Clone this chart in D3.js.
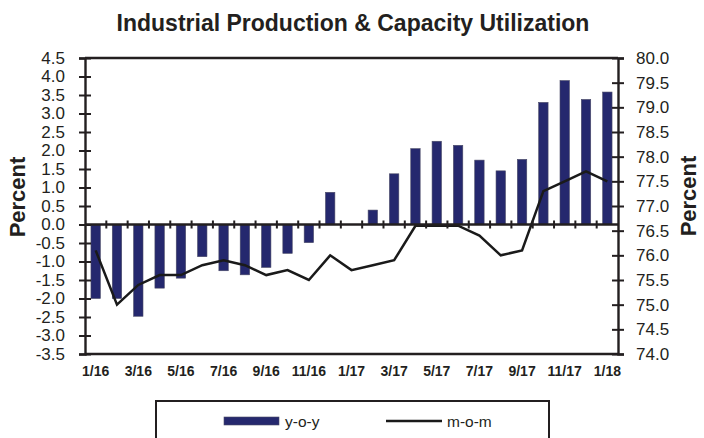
<!DOCTYPE html>
<html>
<head>
<meta charset="utf-8">
<script src="https://cdn.jsdelivr.net/npm/d3@7/dist/d3.min.js"></script>
<style>
  html, body { margin: 0; padding: 0; background: #fff; }
  svg { display: block; font-family: "Liberation Sans", Arial, sans-serif; }
</style>
</head>
<body>
<svg id="chart" width="704" height="438"></svg>
<script>
// Monthly categories, Jan 2016 – Jan 2018
const months = ["1/16","2/16","3/16","4/16","5/16","6/16","7/16","8/16","9/16","10/16","11/16","12/16",
                "1/17","2/17","3/17","4/17","5/17","6/17","7/17","8/17","9/17","10/17","11/17","12/17","1/18"];
// Industrial production, y-o-y % change (left axis)
const yoy = [-2.0, -2.0, -2.48, -1.72, -1.45, -0.87, -1.25, -1.36, -1.16, -0.78, -0.49, 0.87,
             0.0, 0.39, 1.37, 2.05, 2.25, 2.14, 1.74, 1.45, 1.76, 3.30, 3.89, 3.38, 3.58];
// Capacity utilization, % (right axis)
const mom = [76.1, 75.0, 75.4, 75.6, 75.6, 75.8, 75.9, 75.8, 75.6, 75.7, 75.5, 76.0,
             75.7, 75.8, 75.9, 76.6, 76.6, 76.6, 76.4, 76.0, 76.1, 77.3, 77.5, 77.7, 77.5];
const leftTicks = [-3.5,-3.0,-2.5,-2.0,-1.5,-1.0,-0.5,0,0.5,1.0,1.5,2.0,2.5,3.0,3.5,4.0,4.5];
const rightTicks = [74.0,74.5,75.0,75.5,76.0,76.5,77.0,77.5,78.0,78.5,79.0,79.5,80.0];
const labelMonths = months.filter((d, i) => i % 2 === 0);

const svg = d3.select("#chart");
const plot = { left: 85, right: 618, top: 58, bottom: 354 };
const ink = "#231f20";
const barFill = "#25286e";
const fmt = d => d.toFixed(1);   // plain hyphen for negatives

const band = d3.scaleBand().domain(months).range([plot.left, plot.right]);
const yL = d3.scaleLinear().domain([-3.5, 4.5]).range([plot.bottom, plot.top]);
const yR = d3.scaleLinear().domain([74, 80]).range([plot.bottom, plot.top]);

// Title
svg.append("text")
  .attr("x", 353).attr("y", 31)
  .attr("text-anchor", "middle")
  .attr("font-size", 23).attr("font-weight", "bold").attr("fill", ink)
  .text("Industrial Production & Capacity Utilization");

// Bars
svg.append("g").selectAll("rect").data(yoy).join("rect")
  .attr("x", (d, i) => band(months[i]) + band.bandwidth() / 2 - 4.7)
  .attr("width", 9.4)
  .attr("y", d => yL(Math.max(0, d)))
  .attr("height", d => Math.abs(yL(d) - yL(0)))
  .attr("fill", barFill)
  .attr("stroke", "#4a4a66").attr("stroke-width", 0.6);

// Capacity utilization line
const line = d3.line()
  .x((d, i) => band(months[i]) + band.bandwidth() / 2)
  .y(d => yR(d));
svg.append("path").datum(mom)
  .attr("d", line)
  .attr("fill", "none").attr("stroke", "#1a1a1a").attr("stroke-width", 2.5)
  .attr("stroke-linejoin", "miter");

// Frame (top and bottom edges)
svg.append("line").attr("x1", plot.left).attr("x2", plot.right).attr("y1", plot.top).attr("y2", plot.top)
  .attr("stroke", ink).attr("stroke-width", 2.4);
svg.append("line").attr("x1", plot.left).attr("x2", plot.right).attr("y1", plot.bottom).attr("y2", plot.bottom)
  .attr("stroke", ink).attr("stroke-width", 2.4);

// Left axis
const axL = svg.append("g").attr("transform", `translate(${plot.left},0)`)
  .call(d3.axisLeft(yL).tickValues(leftTicks).tickFormat(fmt).tickSize(6).tickPadding(14));
axL.select(".domain").attr("stroke", ink).attr("stroke-width", 2.4);
axL.selectAll(".tick line").attr("x1", 6).attr("x2", -6).attr("stroke", ink).attr("stroke-width", 2);
axL.selectAll(".tick text").attr("font-size", 17).attr("fill", ink).attr("font-family", null);

// Right axis
const axR = svg.append("g").attr("transform", `translate(${plot.right},0)`)
  .call(d3.axisRight(yR).tickValues(rightTicks).tickFormat(fmt).tickSize(6).tickPadding(12));
axR.select(".domain").attr("stroke", ink).attr("stroke-width", 2.4);
axR.selectAll(".tick line").attr("x1", -6).attr("x2", 6).attr("stroke", ink).attr("stroke-width", 2);
axR.selectAll(".tick text").attr("font-size", 17).attr("fill", ink).attr("font-family", null);

// Zero line with month boundary ticks
const y0 = yL(0);
svg.append("line").attr("x1", plot.left).attr("x2", plot.right).attr("y1", y0).attr("y2", y0)
  .attr("stroke", ink).attr("stroke-width", 2.4);
svg.append("g").selectAll("line").data(months.slice(1)).join("line")
  .attr("x1", d => band(d)).attr("x2", d => band(d))
  .attr("y1", y0 - 4).attr("y2", y0 + 4)
  .attr("stroke", ink).attr("stroke-width", 2);

// Month labels
svg.append("g").selectAll("text").data(labelMonths).join("text")
  .attr("x", d => band(d) + band.bandwidth() / 2)
  .attr("y", 376)
  .attr("text-anchor", "middle")
  .attr("font-size", 14).attr("font-weight", "bold").attr("fill", ink)
  .text(d => d);

// Axis titles
svg.append("text")
  .attr("transform", "translate(25,197) rotate(-90)")
  .attr("text-anchor", "middle")
  .attr("font-size", 22).attr("font-weight", "bold").attr("fill", ink)
  .text("Percent");
svg.append("text")
  .attr("transform", "translate(696,196) rotate(-90)")
  .attr("text-anchor", "middle")
  .attr("font-size", 22).attr("font-weight", "bold").attr("fill", ink)
  .text("Percent");

// Legend
const lg = svg.append("g");
lg.append("rect").attr("x", 156).attr("y", 401).attr("width", 393).attr("height", 60)
  .attr("fill", "#fff").attr("stroke", ink).attr("stroke-width", 2);
lg.append("rect").attr("x", 224).attr("y", 417).attr("width", 55).attr("height", 8)
  .attr("fill", barFill).attr("stroke", "#4a4a66").attr("stroke-width", 0.6);
lg.append("text").attr("x", 285).attr("y", 426.5).attr("font-size", 15.5).attr("fill", ink).text("y-o-y");
lg.append("line").attr("x1", 386).attr("x2", 442).attr("y1", 421).attr("y2", 421)
  .attr("stroke", "#1a1a1a").attr("stroke-width", 2.5);
lg.append("text").attr("x", 447).attr("y", 426.5).attr("font-size", 15.5).attr("fill", ink).text("m-o-m");
</script>
</body>
</html>
